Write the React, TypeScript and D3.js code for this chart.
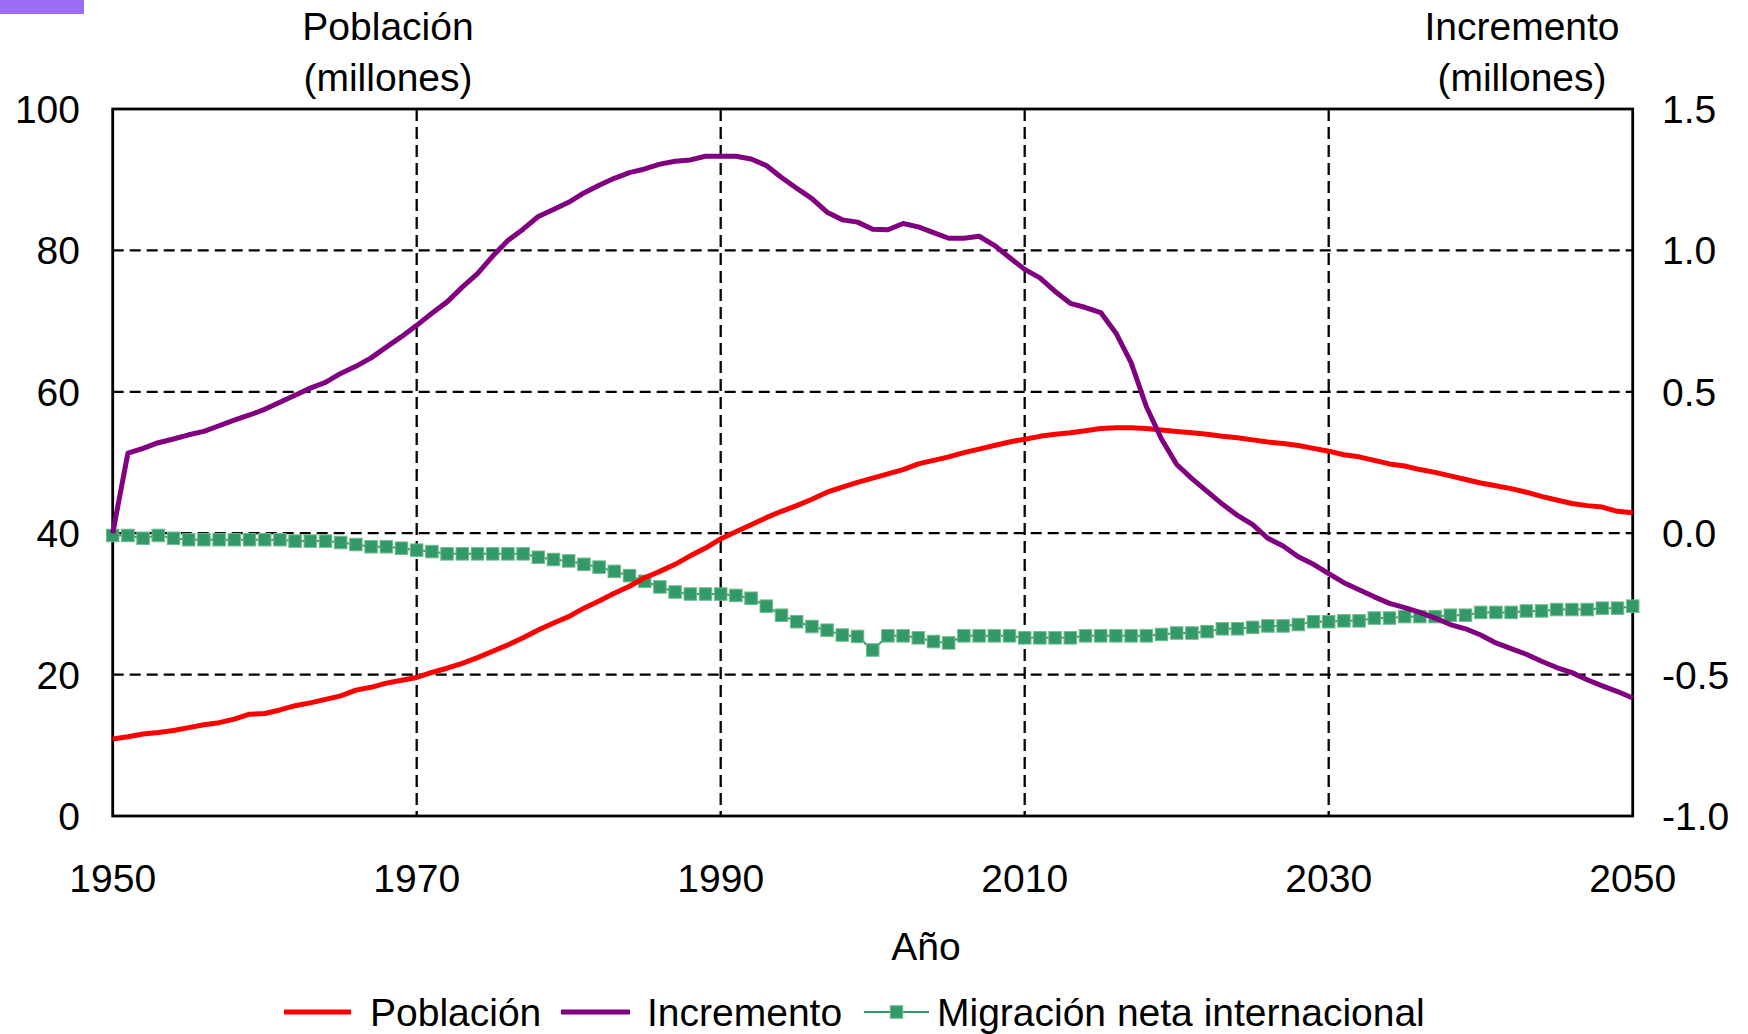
import React from "react";
import * as d3 from "d3";

const years: number[] = d3.range(1950, 2051);

// Población (millones), left axis
const poblacion: number[] = [
  10.9, 11.2, 11.6, 11.8, 12.1, 12.5, 12.9, 13.2, 13.7, 14.4,
  14.5, 15.0, 15.6, 16.0, 16.5, 17.0, 17.8, 18.2, 18.8, 19.2,
  19.6, 20.3, 20.9, 21.6, 22.4, 23.3, 24.2, 25.2, 26.3, 27.3,
  28.2, 29.4, 30.4, 31.5, 32.5, 33.7, 34.6, 35.6, 36.8, 37.9,
  39.2, 40.2, 41.2, 42.2, 43.1, 43.9, 44.8, 45.8, 46.5, 47.2,
  47.8, 48.4, 49.0, 49.8, 50.3, 50.8, 51.4, 51.9, 52.4, 52.9,
  53.3, 53.7, 54.0, 54.2, 54.5, 54.8, 54.9, 54.9, 54.8, 54.6,
  54.4, 54.2, 54.0, 53.7, 53.5, 53.2, 52.9, 52.7, 52.4, 52.0,
  51.6, 51.1, 50.8, 50.3, 49.8, 49.5, 49.0, 48.6, 48.1, 47.6,
  47.1, 46.7, 46.3, 45.8, 45.2, 44.7, 44.2, 43.9, 43.7, 43.1,
  42.9,
];

// Incremento (millones), right axis
const incremento: number[] = [
  0.0, 0.283, 0.3, 0.32, 0.333, 0.348, 0.36, 0.38, 0.4, 0.418,
  0.438, 0.463, 0.488, 0.513, 0.533, 0.565, 0.59, 0.62, 0.658, 0.695,
  0.735, 0.778, 0.818, 0.87, 0.918, 0.98, 1.035, 1.075, 1.12, 1.145,
  1.17, 1.203, 1.23, 1.255, 1.275, 1.288, 1.305, 1.315, 1.32, 1.333,
  1.333, 1.333, 1.323, 1.3, 1.258, 1.22, 1.183, 1.135, 1.108, 1.1,
  1.075, 1.073, 1.095, 1.083, 1.063, 1.043, 1.043, 1.05, 1.018, 0.975,
  0.933, 0.903, 0.855, 0.813, 0.798, 0.78, 0.708, 0.603, 0.448, 0.333,
  0.243, 0.193, 0.148, 0.103, 0.063, 0.03, -0.018, -0.045, -0.083, -0.11,
  -0.143, -0.175, -0.2, -0.225, -0.248, -0.263, -0.28, -0.3, -0.323, -0.338,
  -0.36, -0.388, -0.408, -0.428, -0.453, -0.475, -0.493, -0.518, -0.54, -0.56,
  -0.583,
];

// Migración neta internacional (millones), right axis
const migracion: number[] = [
  -0.008, -0.008, -0.018, -0.008, -0.018, -0.023, -0.023, -0.023, -0.023, -0.023,
  -0.023, -0.023, -0.028, -0.028, -0.028, -0.033, -0.04, -0.048, -0.048, -0.053,
  -0.06, -0.065, -0.073, -0.073, -0.073, -0.073, -0.073, -0.073, -0.085, -0.093,
  -0.098, -0.11, -0.12, -0.135, -0.15, -0.17, -0.19, -0.208, -0.215, -0.215,
  -0.215, -0.22, -0.23, -0.258, -0.29, -0.313, -0.33, -0.343, -0.36, -0.365,
  -0.413, -0.363, -0.363, -0.37, -0.383, -0.388, -0.363, -0.363, -0.363, -0.363,
  -0.37, -0.37, -0.37, -0.37, -0.363, -0.363, -0.363, -0.363, -0.363, -0.358,
  -0.353, -0.353, -0.348, -0.338, -0.338, -0.333, -0.328, -0.328, -0.323, -0.313,
  -0.313, -0.31, -0.31, -0.3, -0.3, -0.295, -0.295, -0.295, -0.29, -0.29,
  -0.28, -0.28, -0.28, -0.275, -0.275, -0.27, -0.27, -0.27, -0.265, -0.265,
  -0.258,
];

const xTicks: number[] = [1950, 1970, 1990, 2010, 2030, 2050];
const leftTicks: number[] = [0, 20, 40, 60, 80, 100];
const rightTicks: number[] = [-1.0, -0.5, 0.0, 0.5, 1.0, 1.5];

const FONT = "'Liberation Sans', Arial, sans-serif";
const FS = 39;

export default function App() {
  const W = 1748;
  const H = 1034;
  const L = 112.7, R = 1632.7, T = 109, B = 816;

  const x = d3.scaleLinear().domain([1950, 2050]).range([L, R]);
  const yL = d3.scaleLinear().domain([0, 100]).range([B, T]);
  const yR = d3.scaleLinear().domain([-1, 1.5]).range([B, T]);

  const linePob = d3.line<number>().x((_, i) => x(years[i])).y((d) => yL(d));
  const lineR = d3.line<number>().x((_, i) => x(years[i])).y((d) => yR(d));

  const ms = 12.5;
  const fmtR = (t: number) => t.toFixed(1);

  return (
    <svg
      width={W}
      height={H}
      style={{ position: "absolute", left: 0, top: 0, background: "#fff" }}
      fontFamily={FONT}
    >
      <rect x={0} y={0} width={W} height={H} fill="#fff" />
      <rect x={0} y={0} width={84} height={14} fill="#9b6cf4" />

      {/* grid */}
      {leftTicks.filter((t) => t > 0 && t < 100).map((t) => (
        <line key={"h" + t} x1={L} x2={R} y1={yL(t)} y2={yL(t)} stroke="#000" strokeWidth={2.3} strokeDasharray="11,6" />
      ))}
      {xTicks.filter((t) => t > 1950 && t < 2050).map((t) => (
        <line key={"v" + t} x1={x(t)} x2={x(t)} y1={T} y2={B} stroke="#000" strokeWidth={2.3} strokeDasharray="12,6" />
      ))}

      {/* frame */}
      <rect x={L} y={T} width={R - L} height={B - T} fill="none" stroke="#000" strokeWidth={2.8} />

      {/* series */}
      <path d={lineR(migracion) || ""} fill="none" stroke="#339966" strokeWidth={2} />
      {migracion.map((v, i) => (
        <rect
          key={"m" + i}
          x={x(years[i]) - ms / 2}
          y={yR(v) - ms / 2}
          width={ms}
          height={ms}
          fill="#339966"
          stroke="#6dbb8f"
          strokeWidth={1}
        />
      ))}
      <path d={linePob(poblacion) || ""} fill="none" stroke="#ff0000" strokeWidth={5} strokeLinejoin="round" />
      <path d={lineR(incremento) || ""} fill="none" stroke="#800080" strokeWidth={5} strokeLinejoin="round" />

      {/* left ticks */}
      {leftTicks.map((t) => (
        <text key={"lt" + t} x={80} y={yL(t)} dy="0.36em" textAnchor="end" fontSize={FS} fill="#000">
          {t}
        </text>
      ))}
      {/* right ticks */}
      {rightTicks.map((t) => (
        <text key={"rt" + t} x={1662} y={yR(t)} dy="0.36em" textAnchor="start" fontSize={FS} fill="#000">
          {fmtR(t)}
        </text>
      ))}
      {/* x ticks */}
      {xTicks.map((t) => (
        <text key={"xt" + t} x={x(t)} y={892} textAnchor="middle" fontSize={FS} fill="#000">
          {t}
        </text>
      ))}

      {/* axis titles */}
      <text x={926} y={960} textAnchor="middle" fontSize={FS} fill="#000">Año</text>
      <text x={388} y={40} textAnchor="middle" fontSize={FS} fill="#000">Población</text>
      <text x={388} y={91} textAnchor="middle" fontSize={FS} fill="#000">(millones)</text>
      <text x={1522} y={40} textAnchor="middle" fontSize={FS} fill="#000">Incremento</text>
      <text x={1522} y={91} textAnchor="middle" fontSize={FS} fill="#000">(millones)</text>

      {/* legend */}
      <line x1={284} x2={351} y1={1012} y2={1012} stroke="#ff0000" strokeWidth={5} />
      <text x={370} y={1012} dy="0.36em" fontSize={FS} fill="#000">Población</text>
      <line x1={561} x2={630} y1={1012} y2={1012} stroke="#800080" strokeWidth={5} />
      <text x={647} y={1012} dy="0.36em" fontSize={FS} fill="#000">Incremento</text>
      <line x1={864} x2={929} y1={1012} y2={1012} stroke="#339966" strokeWidth={2} />
      <rect x={896.5 - ms / 2} y={1012 - ms / 2} width={ms} height={ms} fill="#339966" stroke="#6dbb8f" strokeWidth={1} />
      <text x={937} y={1012} dy="0.36em" fontSize={FS} fill="#000">Migración neta internacional</text>
    </svg>
  );
}
